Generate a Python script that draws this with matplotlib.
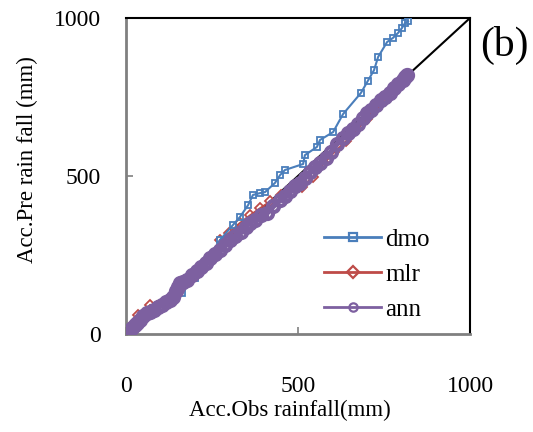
import matplotlib.pyplot as plt

plt.rcParams['font.family'] = ['Liberation Serif', 'DejaVu Serif']

dmo_obs = [0, 20, 55, 99, 134, 163, 200, 244, 273, 311, 331, 355, 369, 390, 404, 433, 448, 462,
           515, 520, 555, 564, 602, 631, 683, 703, 721, 733, 759, 776, 791, 802, 811, 820]
dmo_pre = [0, 22, 51, 85, 117, 130, 177, 244, 297, 345, 370, 408, 440, 446, 449, 478, 503, 519,
           538, 566, 592, 614, 639, 696, 763, 801, 835, 877, 924, 937, 953, 968, 984, 990]

mlr_obs = [0, 10, 20, 35, 50, 70, 90, 110, 128, 145, 160, 190, 220, 250, 273, 300, 330, 360,
           390, 420, 450, 480, 512, 545, 575, 605, 640, 670, 700, 730, 760, 790, 810]
mlr_pre = [0, 20, 30, 60, 62, 92, 88, 100, 112, 140, 160, 185, 215, 250, 297, 320, 350, 375,
           398, 420, 440, 462, 465, 498, 540, 575, 610, 645, 680, 728, 750, 785, 805]

ann_obs = [0, 4, 10, 18, 26, 32, 40, 50, 60, 70, 80, 92, 104, 116, 128, 138, 146, 151, 158,
           166, 176, 192, 205, 218, 232, 244, 258, 272, 288, 302, 318, 334, 348, 360, 375, 392,
           410, 428, 448, 462, 478, 492, 506, 520, 535, 550, 564, 580, 596, 612, 631, 645, 660,
           675, 690, 700, 712, 726, 740, 752, 766, 780, 792, 804, 812, 817]
ann_pre = [0, 4, 10, 20, 30, 36, 44, 56, 66, 70, 76, 84, 92, 100, 108, 118, 135, 149, 160,
           164, 172, 187, 198, 212, 226, 240, 252, 266, 282, 297, 310, 324, 340, 351, 362, 375,
           383, 404, 424, 436, 452, 468, 478, 495, 512, 528, 541, 558, 575, 600, 620, 636, 650,
           664, 682, 699, 710, 724, 740, 750, 764, 780, 792, 805, 813, 820]

fig = plt.figure(figsize=(5.33, 4.32), dpi=100)
ax = fig.add_axes([0.2364, 0.2269, 0.6454, 0.7314])

ax.plot([0, 1000], [0, 1000], color='black', lw=1.5, zorder=1)
ax.plot(dmo_obs, dmo_pre, color='#4A7EBB', lw=1.5, marker='s', ms=5, mfc='none', mew=1.3,
        label='dmo', zorder=3)
ax.plot(mlr_obs, mlr_pre, color='#BE4B48', lw=1.5, marker='D', ms=5, mfc='none', mew=1.3,
        label='mlr', zorder=2)
ax.plot(ann_obs, ann_pre, color='#7D60A0', lw=4, marker='o', ms=8, mfc='none', mew=3,
        label='ann', zorder=4)

ax.set_xlim(0, 1000)
ax.set_ylim(0, 1000)
ax.set_xticks([0, 500, 1000])
ax.set_yticks([0, 500, 1000])
ax.tick_params(direction='in', length=5, width=1.2, color='#808080', labelsize=17)
ax.tick_params(axis='x', pad=30)
ax.tick_params(axis='y', pad=18)

for s in ['left', 'bottom']:
    ax.spines[s].set_color('#808080')
    ax.spines[s].set_linewidth(2)
for s in ['top', 'right']:
    ax.spines[s].set_color('black')
    ax.spines[s].set_linewidth(1.5)

fig.text(290 / 533, 1 - 410 / 432, 'Acc.Obs rainfall(mm)', fontsize=16.5, ha='center', va='center')
fig.text(27 / 533, 1 - 160 / 432, 'Acc.Pre rain fall (mm)', fontsize=16.5, ha='center',
         va='center', rotation=90)

leg = ax.legend(loc='upper left', bbox_to_anchor=(0.51, 0.405), frameon=False, fontsize=18,
                handlelength=2.3, handletextpad=0.15, labelspacing=0.5)
for h in leg.legend_handles:
    h.set_linewidth(2)
    h.set_markersize(6)
    h.set_markeredgewidth(1.6)

fig.text(504 / 533, 1 - 45 / 432, '(b)', fontsize=30, ha='center', va='center')

fig.savefig('out.png', dpi=100)
